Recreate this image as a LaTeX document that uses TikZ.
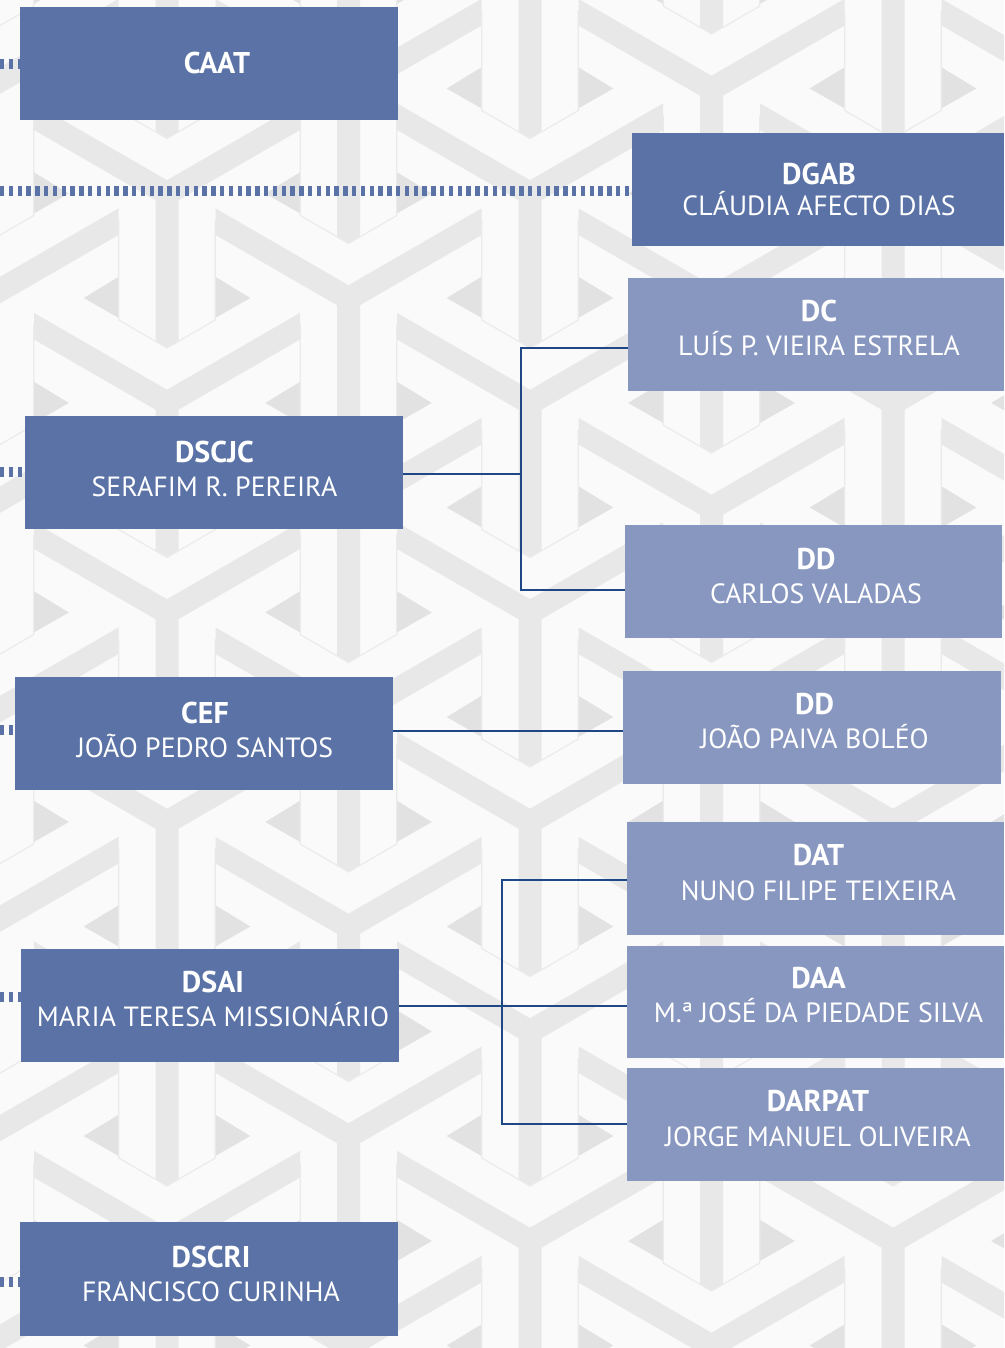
\documentclass[tikz,border=0pt]{standalone}
\usepackage{fontspec}
\setmainfont{PT Sans}
\definecolor{boxdark}{HTML}{5A72A6}
\definecolor{boxlight}{HTML}{8897C0}
\definecolor{connblue}{HTML}{1E4785}
\definecolor{bgcol}{HTML}{FAFAFA}
\definecolor{patgray}{HTML}{E8E8E8}
\definecolor{patdark}{HTML}{E2E2E2}
\definecolor{patline}{HTML}{EBEBEB}
\newcommand\Ymot[2]{%
  \fill[patgray,shift={(#1,#2)}] (-133,-90.1) -- (0,-13.3) -- (133,-90.1) -- (133,-63.5)
    -- (11.5,6.66) -- (11.5,147.4) -- (0,154) -- (-11.5,147.4) -- (-11.5,6.66)
    -- (-133,-63.5) -- cycle;
  \fill[patdark,shift={(#1,#2)}] (-48.3,83.2) -- (-48.3,124.5) -- (-83.3,104.5) -- cycle;
  \fill[patdark,shift={(#1,#2)}] (48.3,83.2) -- (48.3,124.5) -- (83.3,104.5) -- cycle;
  \draw[patline,line width=1.2pt,shift={(#1,#2)}] (-48.3,26.5) -- (-48.3,126.5) -- (0,154.5) -- (48.3,126.5) -- (48.3,26.5);}
\newcommand\capoff{9.7}
\newcommand\capofb{10.5}
\tikzset{
  darkbox/.style={fill=boxdark, draw=none, inner sep=0pt, outer sep=0pt, minimum height=113pt},
  lightbox/.style={fill=boxlight, draw=none, inner sep=0pt, outer sep=0pt, minimum height=113pt},
  ttl/.style={text=white, font=\fontsize{30}{34}\selectfont\bfseries, anchor=base, inner sep=0pt},
  nm/.style={text=white, font=\fontsize{27.8}{32}\selectfont, anchor=base, inner sep=0pt},
  conn/.style={draw=connblue, line width=2.5pt, line join=miter},
  dotl/.style={draw=boxdark, line width=10pt, dash pattern=on 4.4pt off 4.4pt},
}
\begin{document}
\begin{tikzpicture}[x=1pt,y=-1pt]
\useasboundingbox (0,0) rectangle (1004,1348);
\fill[bgcol] (0,0) rectangle (1004,1348);
\begin{scope}
  \clip (0,0) rectangle (1004,1348);
  \foreach \i in {-1,0,1,2,3} {
    \foreach \j in {-2,-1,0,1,2,3,4,5,6,7} {
      \Ymot{167+363*\i}{193.5+209.5*\j}
      \Ymot{348.5+363*\i}{298.5+209.5*\j}
    }
  }
\end{scope}

% boxes
\node[darkbox, minimum width=378pt] (caat) at (209,63.5) {};
\node[darkbox, minimum width=372pt] (dgab) at (818,189.5) {};
\node[lightbox, minimum width=376pt] (dc) at (816,334.5) {};
\node[darkbox, minimum width=378pt] (dscjc) at (214,472.5) {};
\node[lightbox, minimum width=377pt] (dd1) at (813.5,581.5) {};
\node[darkbox, minimum width=378pt] (cef) at (204,733.5) {};
\node[lightbox, minimum width=378pt] (dd2) at (812,727.5) {};
\node[lightbox, minimum width=377pt] (dat) at (815.5,878.5) {};
\node[darkbox, minimum width=378pt] (dsai) at (210,1005.5) {};
\node[lightbox, minimum width=377pt, minimum height=112pt] (daa) at (815.5,1002) {};
\node[lightbox, minimum width=377pt] (darpat) at (815.5,1124.5) {};
\node[darkbox, minimum width=378pt, minimum height=114pt] (dscri) at (209,1279) {};

% texts
\node[ttl] (caat-t) at (217,63+\capofb) {CAAT};
\node[ttl] (dgab-t) at (819,174+\capofb) {DGAB};
\node[nm] (dgab-n) at (819,206+\capoff) {CLÁUDIA AFECTO DIAS};
\node[ttl] (dc-t) at (819,311+\capofb) {DC};
\node[nm] (dc-n) at (819,346+\capoff) {LUÍS P. VIEIRA ESTRELA};
\node[ttl] (dscjc-t) at (214.5,452+\capofb) {DSCJC};
\node[nm] (dscjc-n) at (214.5,487+\capoff) {SERAFIM R. PEREIRA};
\node[ttl] (dd1-t) at (816,559+\capofb) {DD};
\node[nm] (dd1-n) at (816,594+\capoff) {CARLOS VALADAS};
\node[ttl] (cef-t) at (205,713+\capofb) {CEF};
\node[nm] (cef-n) at (205,748+\capoff) {JOÃO PEDRO SANTOS};
\node[ttl] (dd2-t) at (814.5,704+\capofb) {DD};
\node[nm] (dd2-n) at (814.5,739+\capoff) {JOÃO PAIVA BOLÉO};
\node[ttl] (dat-t) at (818.5,855+\capofb) {DAT};
\node[nm] (dat-n) at (818.5,891+\capoff) {NUNO FILIPE TEIXEIRA};
\node[ttl] (dsai-t) at (213,982+\capofb) {DSAI};
\node[nm] (dsai-n) at (213,1017+\capoff) {MARIA TERESA MISSIONÁRIO};
\node[ttl] (daa-t) at (818.5,978+\capofb) {DAA};
\node[nm] (daa-n) at (818.5,1013+\capoff) {M.ª JOSÉ DA PIEDADE SILVA};
\node[ttl] (darpat-t) at (818,1101+\capofb) {DARPAT};
\node[nm] (darpat-n) at (818,1137+\capoff) {JORGE MANUEL OLIVEIRA};
\node[ttl] (dscri-t) at (211,1257+\capofb) {DSCRI};
\node[nm] (dscri-n) at (211,1292+\capoff) {FRANCISCO CURINHA};

% dotted links from the left margin
\coordinate (l1) at (0,64);
\coordinate (l2) at (0,191);
\coordinate (l3) at (0,472);
\coordinate (l4) at (0,730);
\coordinate (l5) at (0,997);
\coordinate (l6) at (0,1282);
\draw[dotl] (l1) -- (l1 -| caat.west);
\draw[dotl] (l2) -- (l2 -| dgab.west);
\draw[dotl] (l3) -- (l3 -| dscjc.west);
\draw[dotl] (l4) -- (l4 -| cef.west);
\draw[dotl] (l5) -- (l5 -| dsai.west);
\draw[dotl] (l6) -- (l6 -| dscri.west);

% solid connectors
\coordinate (b1) at (521,474);
\coordinate (b1t) at (521,348);
\coordinate (b1b) at (521,590);
\draw[conn] (b1 -| dscjc.east) -- (b1);
\draw[conn] (b1t -| dc.west) -- (b1t) -- (b1b) -- (b1b -| dd1.west);
\coordinate (c1) at (400,731);
\draw[conn] (c1 -| cef.east) -- (c1 -| dd2.west);
\coordinate (b2) at (502,1006);
\coordinate (b2t) at (502,880);
\coordinate (b2b) at (502,1124);
\draw[conn] (b2 -| dsai.east) -- (b2 -| daa.west);
\draw[conn] (b2t -| dat.west) -- (b2t) -- (b2b) -- (b2b -| darpat.west);
\end{tikzpicture}
\end{document}
